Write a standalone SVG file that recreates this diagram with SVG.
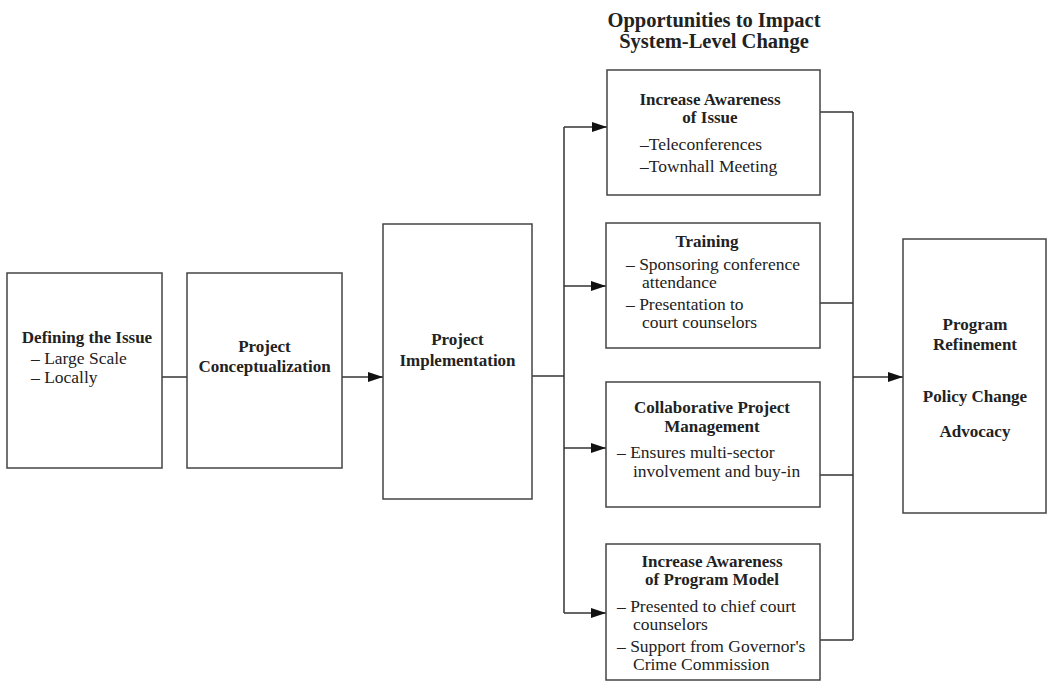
<svg xmlns="http://www.w3.org/2000/svg" width="1047" height="682" viewBox="0 0 1047 682">
<style>
  .box { fill: #fff; stroke: #444; stroke-width: 1.5; }
  .ln { fill: none; stroke: #333; stroke-width: 1.5; }
  .h { font-family: "Liberation Serif", "Times New Roman", serif; font-weight: bold; font-size: 17px; fill: #222; text-anchor: middle; }
  .t { font-family: "Liberation Serif", "Times New Roman", serif; font-size: 17.5px; fill: #222; }
  .title { font-family: "Liberation Serif", "Times New Roman", serif; font-weight: bold; font-size: 20.5px; fill: #222; text-anchor: middle; }
</style>
<defs>
  <marker id="arr" markerUnits="userSpaceOnUse" markerWidth="16" markerHeight="12" refX="15" refY="5" orient="auto">
    <path d="M0,0 L15,5 L0,10 z" fill="#111"/>
  </marker>
</defs>
<rect width="1047" height="682" fill="#fff"/>

<g id="title">
  <text class="title" x="714" y="27">Opportunities to Impact</text>
  <text class="title" x="714" y="48">System-Level Change</text>
</g>

<g id="connectors">
  <line class="ln" x1="162" y1="377" x2="187" y2="377"/>
  <line class="ln" x1="342" y1="377" x2="383" y2="377" marker-end="url(#arr)"/>
  <line class="ln" x1="532" y1="376" x2="564" y2="376"/>
  <line class="ln" x1="564" y1="127" x2="564" y2="613"/>
  <line class="ln" x1="564" y1="127" x2="607" y2="127" marker-end="url(#arr)"/>
  <line class="ln" x1="564" y1="286" x2="606" y2="286" marker-end="url(#arr)"/>
  <line class="ln" x1="564" y1="448" x2="606" y2="448" marker-end="url(#arr)"/>
  <line class="ln" x1="564" y1="613" x2="606" y2="613" marker-end="url(#arr)"/>
  <line class="ln" x1="820" y1="112" x2="853" y2="112"/>
  <line class="ln" x1="820" y1="303" x2="853" y2="303"/>
  <line class="ln" x1="820" y1="475" x2="853" y2="475"/>
  <line class="ln" x1="820" y1="640" x2="853" y2="640"/>
  <line class="ln" x1="853" y1="112" x2="853" y2="640"/>
  <line class="ln" x1="853" y1="377" x2="903" y2="377" marker-end="url(#arr)"/>
</g>

<g id="defining">
  <rect class="box" x="7" y="273" width="155" height="195"/>
  <text class="h" x="87" y="343">Defining the Issue</text>
  <text class="t" x="31" y="364">– Large Scale</text>
  <text class="t" x="31" y="383">– Locally</text>
</g>

<g id="conceptualization">
  <rect class="box" x="187" y="273" width="155" height="195"/>
  <text class="h" x="264.5" y="352">Project</text>
  <text class="h" x="264.5" y="372">Conceptualization</text>
</g>

<g id="implementation">
  <rect class="box" x="383" y="224" width="149" height="275"/>
  <text class="h" x="457.5" y="345">Project</text>
  <text class="h" x="457.5" y="366">Implementation</text>
</g>

<g id="awareness-issue">
  <rect class="box" x="607" y="70" width="213" height="125"/>
  <text class="h" x="710" y="105">Increase Awareness</text>
  <text class="h" x="710" y="123">of Issue</text>
  <text class="t" x="640" y="150">–Teleconferences</text>
  <text class="t" x="640" y="172">–Townhall Meeting</text>
</g>

<g id="training">
  <rect class="box" x="606" y="223" width="214" height="125"/>
  <text class="h" x="707" y="247">Training</text>
  <text class="t" x="626" y="270">– Sponsoring conference</text>
  <text class="t" x="642" y="288">attendance</text>
  <text class="t" x="626" y="310">– Presentation to</text>
  <text class="t" x="642" y="328">court counselors</text>
</g>

<g id="collaborative">
  <rect class="box" x="606" y="382" width="214" height="125"/>
  <text class="h" x="712" y="413">Collaborative Project</text>
  <text class="h" x="712" y="432">Management</text>
  <text class="t" x="617" y="458">– Ensures multi-sector</text>
  <text class="t" x="633" y="477">involvement and buy-in</text>
</g>

<g id="awareness-model">
  <rect class="box" x="606" y="544" width="214" height="136"/>
  <text class="h" x="712" y="567">Increase Awareness</text>
  <text class="h" x="712" y="585">of Program Model</text>
  <text class="t" x="617" y="612">– Presented to chief court</text>
  <text class="t" x="633" y="630">counselors</text>
  <text class="t" x="617" y="652">– Support from Governor's</text>
  <text class="t" x="633" y="670">Crime Commission</text>
</g>

<g id="outcomes">
  <rect class="box" x="903" y="239" width="143" height="274"/>
  <text class="h" x="975" y="330">Program</text>
  <text class="h" x="975" y="350">Refinement</text>
  <text class="h" x="975" y="402">Policy Change</text>
  <text class="h" x="975" y="437">Advocacy</text>
</g>
</svg>
